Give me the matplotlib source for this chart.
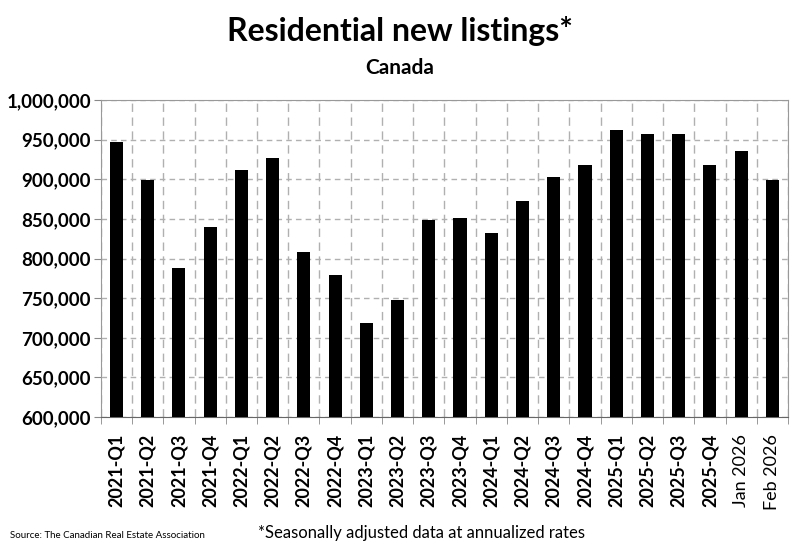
import matplotlib.pyplot as plt
import numpy as np

plt.rcParams['font.family'] = ['Lato', 'DejaVu Sans']

periods = ['2021-Q1', '2021-Q2', '2021-Q3', '2021-Q4',
           '2022-Q1', '2022-Q2', '2022-Q3', '2022-Q4',
           '2023-Q1', '2023-Q2', '2023-Q3', '2023-Q4',
           '2024-Q1', '2024-Q2', '2024-Q3', '2024-Q4',
           '2025-Q1', '2025-Q2', '2025-Q3', '2025-Q4',
           'Jan 2026', 'Feb 2026']
listings = [946600, 899100, 787900, 840000,
            911200, 926200, 808000, 779000,
            718600, 747800, 849200, 851600,
            832500, 872900, 902500, 917500,
            962000, 957000, 957500, 918000,
            935700, 899500]

fig = plt.figure(figsize=(8, 5.48), dpi=100)
ax = fig.add_axes([0.126, 0.239, 0.859, 0.5785])

x = np.arange(len(periods))
ax.bar(x, listings, width=0.42, color='black', zorder=3)

ax.set_ylim(600000, 1000000)
ax.set_xlim(-0.5, len(periods) - 0.5)
ax.set_yticks(np.arange(600000, 1000001, 50000))
ax.set_yticklabels([f'{v:,}' for v in range(600000, 1000001, 50000)],
                   fontsize=13.5, fontweight='bold')

ax.set_xticks(x)
ax.set_xticklabels(periods, rotation=90, fontsize=13)
for lab in ax.get_xticklabels():
    if '-Q' in lab.get_text():
        lab.set_fontweight('bold')
ax.set_xticks(np.arange(-0.5, len(periods)), minor=True)
ax.tick_params(axis='x', which='major', length=0, pad=12)
ax.tick_params(axis='x', which='minor', length=5, color='#888888')
ax.tick_params(axis='y', length=5, color='#888888', pad=2)

ax.grid(axis='y', which='major', linestyle=(0, (4, 3)), color='#b0b0b0', linewidth=1, zorder=0)
ax.grid(axis='x', which='minor', linestyle=(0, (6, 4)), color='#b0b0b0', linewidth=1, zorder=0)

for s in ['top', 'right', 'left']:
    ax.spines[s].set_color('#999999')
ax.spines['bottom'].set_color('#666666')

fig.text(0.5, 0.943, 'Residential new listings*', ha='center', va='center',
         fontsize=23, fontweight='bold')
fig.text(0.5, 0.875, 'Canada', ha='center', va='center',
         fontsize=15, fontweight='bold')
fig.text(0.013, 0.022, 'Source: The Canadian Real Estate Association',
         ha='left', va='center', fontsize=7)
fig.text(0.322, 0.028, '*Seasonally adjusted data at annualized rates',
         ha='left', va='center', fontsize=12)

fig.savefig('out.png', dpi=100)
